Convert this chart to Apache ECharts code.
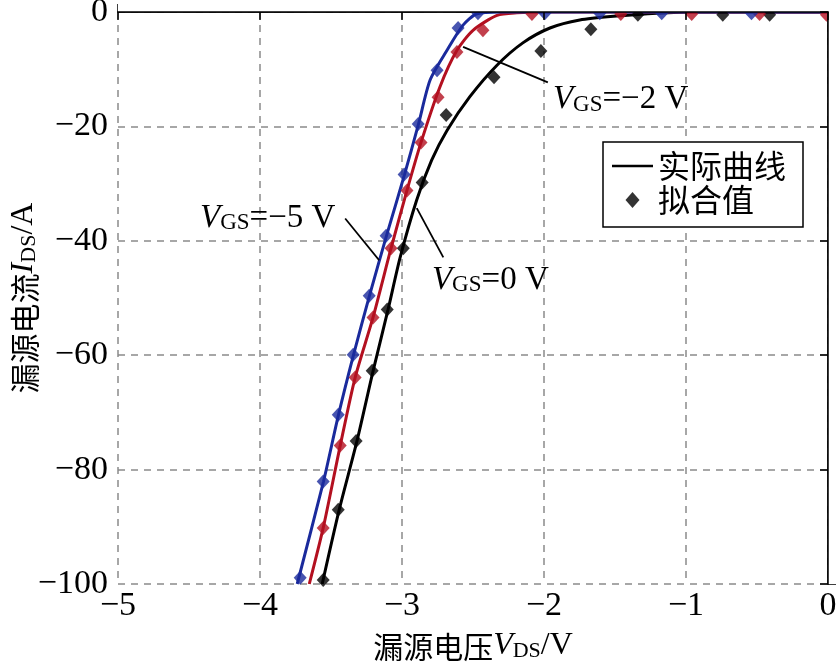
<!DOCTYPE html>
<html>
<head>
<meta charset="utf-8">
<script src="https://cdn.jsdelivr.net/npm/echarts@6/dist/echarts.min.js"></script>
<style>html,body{margin:0;padding:0;background:#fff}#c{width:838px;height:667px}</style>
</head>
<body>
<div id="c"></div>
<script>
// ---- data ----
const xTicks = [-5, -4, -3, -2, -1, 0];
const yTicks = [-100, -80, -60, -40, -20, 0];
// measured curves (实际曲线)
const curveVgs0 = [[-3.562,-100],[-3.442,-87.0],[-3.316,-74.9],[-3.203,-62.7],[-3.098,-52.0],[-3.013,-42.9],[-2.897,-32.9],[-2.791,-25.9],[-2.683,-20.7],[-2.522,-14.8],[-2.331,-9.3],[-2.149,-5.4],[-1.958,-2.8],[-1.748,-1.4],[-1.487,-0.7],[-1.206,-0.2],[-0.904,0],[0,0]];
const curveVgsM2 = [[-3.653,-100],[-3.555,-90.2],[-3.435,-75.8],[-3.330,-63.9],[-3.204,-53.4],[-3.077,-41.3],[-2.965,-31.2],[-2.866,-22.8],[-2.733,-13.1],[-2.613,-6.7],[-2.500,-3.2],[-2.331,-0.6],[-2.191,-0.15],[-1.994,0],[0,0]];
const curveVgsM5 = [[-3.738,-100],[-3.553,-82.1],[-3.447,-70.4],[-3.341,-59.9],[-3.229,-49.6],[-3.109,-39.1],[-2.982,-28.4],[-2.884,-19.6],[-2.802,-11.9],[-2.683,-6.7],[-2.570,-2.3],[-2.472,-0.3],[-2.31,0],[0,0]];
// fitted values (拟合值)
const fitVgs0 = [[-3.555,-99.3],[-3.449,-87.0],[-3.323,-75.0],[-3.210,-62.7],[-3.104,-52.0],[-2.991,-41.3],[-2.858,-29.8],[-2.689,-18.0],[-2.352,-11.4],[-2.022,-6.8],[-1.670,-3.0],[-1.339,-0.5],[-0.741,-0.5],[-0.411,-0.5]];
const fitVgsM2 = [[-3.555,-90.2],[-3.435,-75.8],[-3.330,-63.9],[-3.204,-53.4],[-3.077,-41.3],[-2.965,-31.2],[-2.866,-22.8],[-2.746,-14.9],[-2.613,-7.0],[-2.430,-3.2],[-2.085,-0.35],[-1.459,-0.35],[-0.960,-0.35],[-0.482,-0.35],[-0.011,-0.5]];
const fitVgsM5 = [[-3.717,-98.9],[-3.555,-82.1],[-3.449,-70.4],[-3.344,-59.9],[-3.231,-49.6],[-3.112,-39.1],[-2.985,-28.4],[-2.886,-19.6],[-2.753,-10.2],[-2.605,-2.8],[-2.465,-0.2],[-1.994,-0.2],[-1.607,-0.2],[-1.171,-0.2],[-0.539,-0.2]];
// annotations
const annoTexts = ['=−5 V', '=0 V', '=−2 V'];
const annoAnchors = [[-4.4225,-34.85],[-2.789,-45.7],[-1.937,-14.2]];
const leaderFrom = [[-3.400,-36.1],[-2.896,-34.3],[-2.570,-6.1]];
const leaderTo = [[-3.161,-43.4],[-2.709,-42.9],[-1.973,-12.3]];
const legendNames = ['实际曲线', '拟合值'];

// ---- style ----
const LAT = 'Liberation Serif';
const CJK = 'Noto Sans CJK SC';
const BLACK = '#000000', RED = '#b31020', BLUE = '#1a2a9c';
const G = {left: 118, right: 10, top: 12, bottom: 83, containLabel: false, outerBoundsMode: 'none'};
const fmt = v => (v < 0 ? '\u2212' + Math.abs(v) : String(v));

const nameRich = {
  c: {fontFamily: CJK, fontSize: 30, lineHeight: 40, verticalAlign: 'bottom', color: BLACK},
  i: {fontFamily: LAT, fontStyle: 'italic', fontSize: 32, lineHeight: 40, verticalAlign: 'bottom', color: BLACK},
  s: {fontFamily: LAT, fontSize: 22, lineHeight: 22, verticalAlign: 'bottom', color: BLACK},
  n: {fontFamily: LAT, fontSize: 32, lineHeight: 40, verticalAlign: 'bottom', color: BLACK}
};

const chart = echarts.init(document.getElementById('c'), null, {renderer: 'canvas'});

function lineSeries(data, color) {
  return {type: 'line', data: data, xAxisIndex: 0, yAxisIndex: 0, symbol: 'none', smooth: 0.25,
    lineStyle: {color: color, width: 3}, z: 3, silent: true, animation: false};
}
function dotSeries(data, color) {
  return {type: 'scatter', data: data, xAxisIndex: 0, yAxisIndex: 0, symbol: 'diamond', symbolSize: [13, 14],
    itemStyle: {color: color}, z: 4, silent: true, animation: false};
}

const axisCommon = {
  axisLine: {show: true, lineStyle: {color: BLACK, width: 1.5}},
  axisTick: {show: true, inside: true, length: 8, lineStyle: {color: BLACK, width: 1.5}}
};

chart.setOption({
  backgroundColor: '#fff',
  animation: false,
  grid: G,
  legend: {
    data: [
      {name: legendNames[0], icon: 'path://M0,0 L40,0 L40,2.6 L0,2.6 Z'},
      {name: legendNames[1], icon: 'path://M7,0 L14,8 L7,16 L0,8 Z'}
    ],
    orient: 'vertical', left: 603, top: 142, symbolKeepAspect: true,
    padding: [7, 17, 10, 9], itemGap: 0, itemWidth: 41, itemHeight: 16,
    borderColor: BLACK, borderWidth: 1.5, backgroundColor: '#fff',
    textStyle: {fontFamily: CJK, fontSize: 32, lineHeight: 34, color: BLACK},
    selectedMode: false, z: 10
  },
  xAxis: [
    Object.assign({type: 'value', position: 'bottom', min: -5, max: 0, interval: 1,
      axisLabel: {formatter: fmt, fontFamily: LAT, fontSize: 34, color: BLACK, margin: 5},
      splitLine: {show: true, lineStyle: {color: '#8a8a8a', width: 1.5, type: [7, 6]}},
      name: '{c|漏源电压}{i|V}{s|DS}{n|/V}', nameLocation: 'middle', nameGap: 38,
      nameTextStyle: {rich: nameRich}}, axisCommon),
    Object.assign({type: 'value', position: 'top', min: -5, max: 0, interval: 1, z: 60,
      axisLabel: {show: false}, splitLine: {show: false}}, axisCommon)
  ],
  yAxis: [
    Object.assign({type: 'value', position: 'left', min: -100, max: 0, interval: 20,
      axisLabel: {formatter: fmt, fontFamily: LAT, fontSize: 34, color: BLACK, margin: 10},
      splitLine: {show: true, lineStyle: {color: '#8a8a8a', width: 1.5, type: [7, 6]}},
      name: '{c|漏源电流}{i|I}{s|DS}{n|/A}', nameLocation: 'middle', nameGap: 78, nameRotate: 90,
      nameMoveOverlap: false,
      nameTextStyle: {rich: nameRich}}, axisCommon),
    Object.assign({type: 'value', position: 'right', min: -100, max: 0, interval: 20, z: 60,
      axisLabel: {show: false}, splitLine: {show: false}}, axisCommon)
  ],
  series: [
    lineSeries(curveVgs0, BLACK),
    lineSeries(curveVgsM2, RED),
    lineSeries(curveVgsM5, BLUE),
    dotSeries(fitVgs0, BLACK),
    dotSeries(fitVgsM2, RED),
    dotSeries(fitVgsM5, BLUE),
    {type: 'line', name: legendNames[0], data: [], symbol: 'none', lineStyle: {color: BLACK, width: 2.5}, itemStyle: {color: BLACK}},
    {type: 'scatter', name: legendNames[1], data: [], symbol: 'diamond', itemStyle: {color: BLACK}}
  ]
});

// annotations and clipping masks (computed through the chart's own scales)
const toPx = p => chart.convertToPixel({xAxisIndex: 0, yAxisIndex: 0}, p);
const W = chart.getWidth(), H = chart.getHeight();
const topLeft = toPx([-5, 0]), botRight = toPx([0, -100]);
const graphics = [
  {type: 'rect', z: 50, silent: true, shape: {x: topLeft[0], y: 0, width: W - topLeft[0], height: topLeft[1]}, style: {fill: '#fff'}},
  {type: 'rect', z: 50, silent: true, shape: {x: botRight[0], y: 0, width: W - botRight[0], height: botRight[1]}, style: {fill: '#fff'}}
];
const annoRich = {
  i: {fontFamily: LAT, fontStyle: 'italic', fontSize: 33, lineHeight: 46, verticalAlign: 'bottom', fill: BLACK},
  s: {fontFamily: LAT, fontSize: 23, lineHeight: 23, verticalAlign: 'bottom', fill: BLACK},
  n: {fontFamily: LAT, fontSize: 33, lineHeight: 46, verticalAlign: 'bottom', fill: BLACK}
};
for (let k = 0; k < annoTexts.length; k++) {
  const a = toPx(annoAnchors[k]);
  const f = toPx(leaderFrom[k]), t = toPx(leaderTo[k]);
  graphics.push({type: 'line', z: 20, silent: true, shape: {x1: f[0], y1: f[1], x2: t[0], y2: t[1]}, style: {stroke: BLACK, lineWidth: 1.8}});
  graphics.push({type: 'text', z: 20, silent: true, x: a[0], y: a[1],
    style: {text: '{i|V}{s|GS}{n|' + annoTexts[k] + '}', rich: annoRich, align: 'left', verticalAlign: 'middle', fill: BLACK}});
}
chart.setOption({graphic: graphics});
</script>
</body>
</html>
